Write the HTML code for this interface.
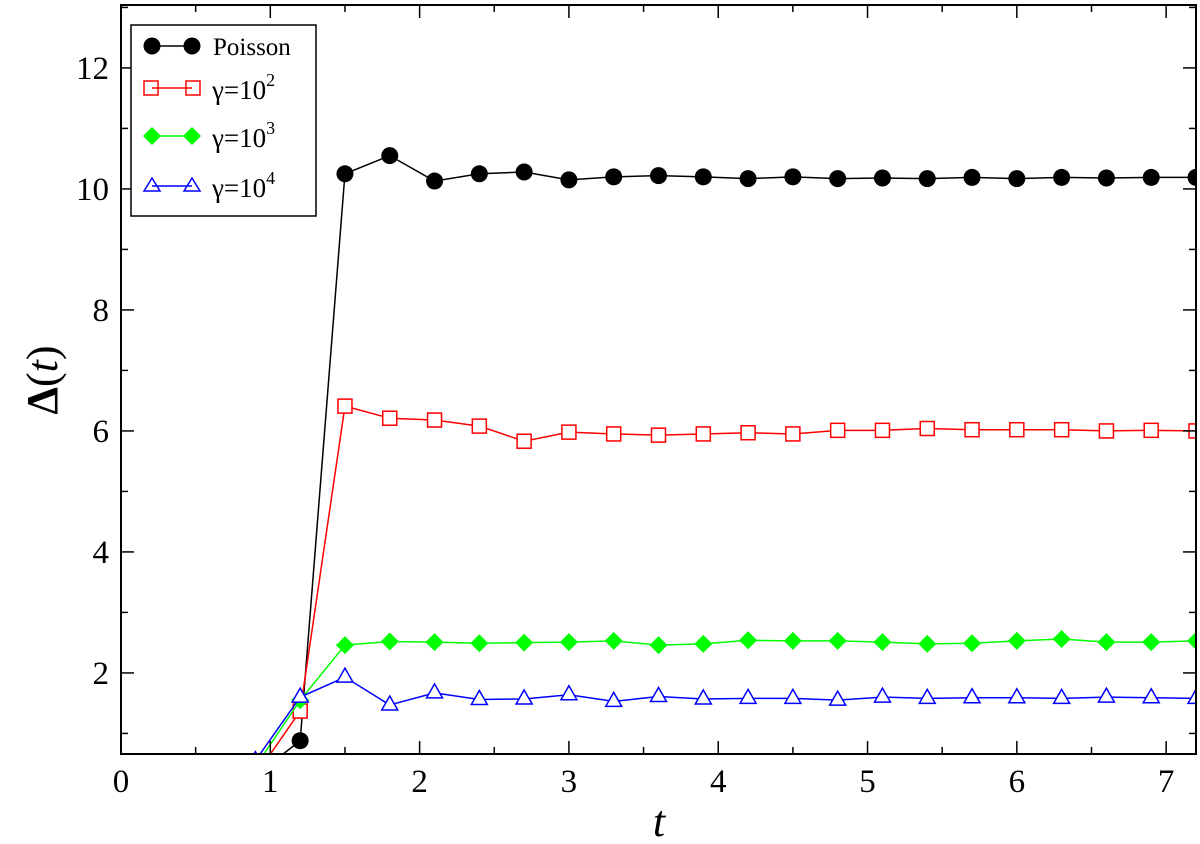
<!DOCTYPE html>
<html><head><meta charset="utf-8"><style>
body{margin:0;background:#fff}
svg{display:block;font-family:"Liberation Serif",serif}
</style></head><body>
<svg id="chart" width="1200" height="844" viewBox="0 0 1200 844">
<defs><clipPath id="clip"><rect x="121" y="5" width="1075" height="749"/></clipPath></defs>
<g id="plot" clip-path="url(#clip)"></g>
<rect x="121" y="5" width="1075" height="749" fill="none" stroke="#000" stroke-width="2"/>
<g id="axes"></g>
<text x="659" y="836" font-size="44" font-style="italic" text-anchor="middle">t</text>
<text transform="translate(57,380) rotate(-90)" font-size="44" text-anchor="middle"><tspan font-weight="bold">Δ</tspan>(<tspan font-style="italic">t</tspan>)</text>
<g>
<rect x="131" y="25" width="185" height="191" fill="#fff" stroke="#000" stroke-width="1.5"/>
<g>
<line x1="152" y1="46" x2="192" y2="46" stroke="#000" stroke-width="1.5"/>
<circle cx="152" cy="46" r="8.5" fill="#000"/><circle cx="192" cy="46" r="8.5" fill="#000"/>
<text x="213" y="55" font-size="25">Poisson</text></g>
<g>
<line x1="152" y1="88" x2="192" y2="88" stroke="#f00" stroke-width="1.5"/>
<rect x="144" y="81" width="14" height="14" fill="none" stroke="#f00" stroke-width="1.5"/><rect x="186" y="81" width="14" height="14" fill="none" stroke="#f00" stroke-width="1.5"/>
<text x="212" y="99" font-size="27">γ=10<tspan font-size="18" dy="-13">2</tspan></text></g>
<g>
<line x1="152" y1="136" x2="192" y2="136" stroke="#0f0" stroke-width="1.5"/>
<polygon points="152,127 161,136 152,145 143,136" fill="#0f0"/><polygon points="192,127 201,136 192,145 183,136" fill="#0f0"/>
<text x="212" y="147" font-size="27">γ=10<tspan font-size="18" dy="-13">3</tspan></text></g>
<g>
<line x1="152" y1="186" x2="192" y2="186" stroke="#00f" stroke-width="1.5"/>
<polygon points="152,178 160,191 144,191" fill="none" stroke="#00f" stroke-width="1.5"/><polygon points="192,178 200,191 184,191" fill="none" stroke="#00f" stroke-width="1.5"/>
<text x="212" y="197" font-size="27">γ=10<tspan font-size="18" dy="-13">4</tspan></text></g>
</g>
</svg>
<script>
const tVals=[0.9,1.2,1.5,1.8,2.1,2.4,2.7,3.0,3.3,3.6,3.9,4.2,4.5,4.8,5.1,5.4,5.7,6.0,6.3,6.6,6.9,7.2];
const poisson=[0.3,0.88,10.25,10.55,10.13,10.25,10.28,10.15,10.2,10.22,10.2,10.17,10.2,10.17,10.18,10.17,10.19,10.17,10.19,10.18,10.19,10.19];
const gamma2=[0.3,1.37,6.41,6.21,6.18,6.08,5.83,5.98,5.95,5.93,5.95,5.97,5.95,6.01,6.01,6.04,6.02,6.02,6.02,6.0,6.01,6.0];
const gamma3=[0.45,1.55,2.46,2.52,2.51,2.49,2.5,2.51,2.53,2.46,2.48,2.54,2.53,2.53,2.51,2.48,2.49,2.53,2.56,2.51,2.51,2.53];
const gamma4=[0.55,1.6,1.93,1.47,1.67,1.56,1.57,1.64,1.53,1.61,1.57,1.58,1.58,1.55,1.6,1.58,1.59,1.59,1.58,1.6,1.59,1.58];
const xTicks=[0,1,2,3,4,5,6,7];
const yTicks=[2,4,6,8,10,12];
const NS="http://www.w3.org/2000/svg";
const xMin=0,xMax=7.2,yMin=0.66,yMax=13.04;
const X=v=>121+(v-xMin)/(xMax-xMin)*1075;
const Y=v=>754-(v-yMin)/(yMax-yMin)*749;
const plot=document.getElementById('plot'),axes=document.getElementById('axes');
function mk(tag,attrs,parent){const e=document.createElementNS(NS,tag);for(const k in attrs)e.setAttribute(k,attrs[k]);parent.appendChild(e);return e;}
// ticks
for(let v=0;v<=7.2;v+=0.5){const major=Math.abs(v-Math.round(v))<1e-6;const L=major?13:7;const x=X(v);
const t=mk('line',{x1:x,y1:754,x2:x,y2:754-L,stroke:'#000','stroke-width':1.5},axes);


const t2=mk('line',{x1:x,y1:5,x2:x,y2:5+L,stroke:'#000','stroke-width':1.5},axes);

}
for(let v=1;v<=13;v+=1){const major=v%2===0;const L=major?13:7;const y=Y(v);
const t=mk('line',{x1:121,y1:y,x2:121+L,y2:y,stroke:'#000','stroke-width':1.5},axes);


const t2=mk('line',{x1:1196,y1:y,x2:1196-L,y2:y,stroke:'#000','stroke-width':1.5},axes);

}
xTicks.forEach(v=>{const t=mk('text',{x:X(v),y:792,'font-size':33,'text-anchor':'middle'},axes);t.textContent=v;

});
yTicks.forEach(v=>{const t=mk('text',{x:109,y:Y(v)+11,'font-size':33,'text-anchor':'end'},axes);t.textContent=v;

});
function series(vals,color,marker,name){
const g=mk('g',{},plot);


const pts=tVals.map((t,i)=>X(t)+','+Y(vals[i])).join(' ');
mk('polyline',{points:pts,fill:'none',stroke:color,'stroke-width':1.5},g);
tVals.forEach((t,i)=>{const x=X(t),y=Y(vals[i]);let m;
if(marker==='circle')m=mk('circle',{cx:x,cy:y,r:8.5,fill:color},g);
else if(marker==='square')m=mk('rect',{x:x-7,y:y-7,width:14,height:14,fill:'#fff',stroke:color,'stroke-width':1.5},g);
else if(marker==='diamond')m=mk('polygon',{points:`${x},${y-9} ${x+9},${y} ${x},${y+9} ${x-9},${y}`,fill:color},g);
else m=mk('polygon',{points:`${x},${y-9} ${x+8},${y+5} ${x-8},${y+5}`,fill:'#fff',stroke:color,'stroke-width':1.5},g);

});}
series(poisson,'#000','circle','series-poisson');
series(gamma2,'#f00','square','series-gamma-1e2');
series(gamma3,'#0f0','diamond','series-gamma-1e3');
series(gamma4,'#00f','triangle','series-gamma-1e4');
</script>
</body></html>
